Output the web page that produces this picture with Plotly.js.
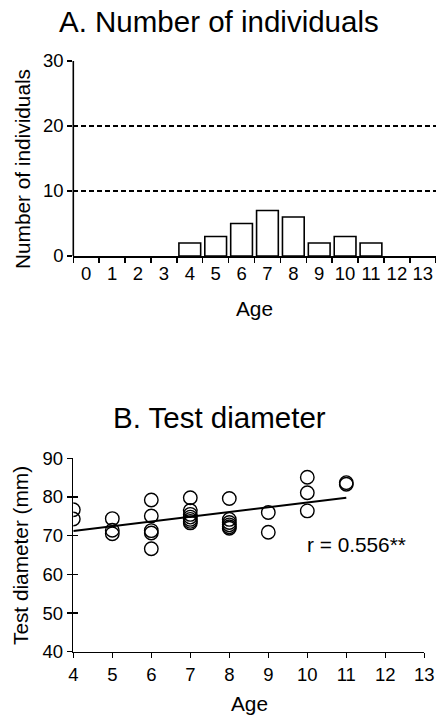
<!DOCTYPE html>
<html>
<head>
<meta charset="utf-8">
<script src="https://cdn.plot.ly/plotly-3.0.1.min.js"></script>
<style>html,body{margin:0;padding:0;background:#fff;}#chart{width:438px;height:717px;}</style>
</head>
<body>
<div id="chart"></div>
<script>
// Panel A: number of individuals per age
const agesA = ["0","1","2","3","4","5","6","7","8","9","10","11","12","13"];
const counts = [0,0,0,0,2,3,5,7,6,2,3,2,0,0];

// Panel B: test diameter by age
const agesB = [4,4,5,5,5,6,6,6,6,6,7,7,7,7,7,7,7,8,8,8,8,8,8,9,9,10,10,10,11,11];
const diam  = [76.7,74.3,74.4,71.4,70.5,79.2,75.1,71.3,70.7,66.6,79.8,76.5,75.5,74.8,74.2,73.7,73.3,79.6,74.2,73.4,72.8,72.3,71.9,76.0,70.9,85.1,81.1,76.4,83.7,83.3];
const fitX = [4, 11];
const fitY = [71.2, 79.8];
const rLabel = "r = 0.556**";

const W = 438, H = 717;
const px = v => v / W;
const py = v => (H - v) / H;
const FONT = "Liberation Sans, Arial, sans-serif";

const traces = [
  {type:'bar', x: agesA, y: counts, xaxis:'x', yaxis:'y', width:0.84,
   marker:{color:'#ffffff', line:{color:'#000', width: counts.map(c => c > 0 ? 1.6 : 0)}}, hoverinfo:'skip'},
  {type:'scatter', mode:'markers', x: agesB, y: diam, xaxis:'x2', yaxis:'y2',
   marker:{symbol:'circle-open', size:13.5, color:'#000', line:{width:1.4, color:'#000'}}},
  {type:'scatter', mode:'lines', x: fitX, y: fitY, xaxis:'x2', yaxis:'y3',
   line:{color:'#000', width:2}}
];

const tickFont = {family: FONT, size: 18.5, color:'#000'};
const titleFont = {family: FONT, size: 29.5, color:'#000'};
const axFont = {family: FONT, size: 20.8, color:'#000'};

const layout = {
  width: W, height: H,
  margin:{l:0, r:0, t:0, b:0},
  paper_bgcolor:'#fff', plot_bgcolor:'rgba(0,0,0,0)',
  showlegend:false,
  font:{family: FONT, color:'#000'},
  xaxis:{domain:[px(73.3), px(435.7)], anchor:'y', type:'category', range:[-0.5,13.5],
    tickson:'boundaries', ticks:'outside', ticklen:5, tickwidth:1.4, tickcolor:'#000', tickangle:0,
    showline:true, linecolor:'#000', linewidth:1.6, showgrid:false, zeroline:false,
    tickfont: tickFont, fixedrange:true},
  yaxis:{domain:[py(256), py(60)], anchor:'x', range:[0,30.15], tickvals:[0,10,20,30],
    ticks:'outside', ticklen:5, tickwidth:1.4, tickcolor:'#000',
    showline:false, zeroline:false,
    showgrid:true, gridcolor:'#000', gridwidth:1.8, griddash:'5px,3px',
    tickfont: tickFont, fixedrange:true},
  xaxis2:{domain:[px(73.3), px(424.3)], anchor:'y2', range:[4,13], tickvals:[4,5,6,7,8,9,10,11,12,13],
    ticks:'outside', ticklen:5, tickwidth:1.4, tickcolor:'#000', tickangle:0,
    showline:true, linecolor:'#000', linewidth:1.6, showgrid:false, zeroline:false,
    tickfont: tickFont, fixedrange:true},
  yaxis2:{domain:[py(651.7), py(458.3)], anchor:'x2', range:[40,90], tickvals:[40,50,60,70,80,90],
    ticks:'outside', ticklen:5, tickwidth:1.4, tickcolor:'#000',
    showline:true, linecolor:'#000', linewidth:1.6, showgrid:false, zeroline:false,
    tickfont: tickFont, fixedrange:true},
  yaxis3:{overlaying:'y2', matches:'y2', anchor:'x2', range:[40,90], tickvals:[40,50,60,70,80,90],
    ticks:'inside', ticklen:5, tickwidth:1.4, tickcolor:'#000', showticklabels:false,
    showline:false, showgrid:false, zeroline:false, fixedrange:true},
  shapes:[
    {type:'line', xref:'paper', yref:'y', x0:px(73.3), x1:px(73.3), y0:0, y1:30, line:{color:'#000', width:1.6}}
  ],
  annotations:[
    {text:'A. Number of individuals', xref:'paper', yref:'paper', x:px(218.5), y:py(21), xanchor:'center', yanchor:'middle', showarrow:false, font:titleFont},
    {text:'B. Test diameter', xref:'paper', yref:'paper', x:px(219), y:py(417), xanchor:'center', yanchor:'middle', showarrow:false, font:titleFont},
    {text:'Number of individuals', xref:'paper', yref:'paper', x:px(22), y:py(169), xanchor:'center', yanchor:'middle', textangle:-90, showarrow:false, font:axFont},
    {text:'Test diameter (mm)', xref:'paper', yref:'paper', x:px(20), y:py(556), xanchor:'center', yanchor:'middle', textangle:-90, showarrow:false, font:axFont},
    {text:'Age', xref:'paper', yref:'paper', x:px(254.5), y:py(308), xanchor:'center', yanchor:'middle', showarrow:false, font:axFont},
    {text:'Age', xref:'paper', yref:'paper', x:px(249), y:py(703), xanchor:'center', yanchor:'middle', showarrow:false, font:axFont},
    {text: rLabel, xref:'x2', yref:'y2', x:11.25, y:67.8, xanchor:'center', yanchor:'middle', showarrow:false, font:axFont}
  ]
};

Plotly.newPlot('chart', traces, layout, {staticPlot:true, displayModeBar:false});
</script>
</body>
</html>
